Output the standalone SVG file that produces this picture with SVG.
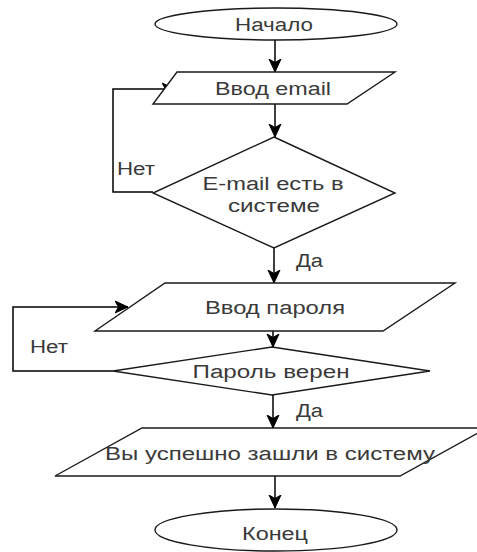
<svg xmlns="http://www.w3.org/2000/svg" width="477" height="552" viewBox="0 0 477 552">
  <style>
    .shape { fill: #ffffff; stroke: #1a1a1a; stroke-width: 1.4; }
    .edge { fill: none; stroke: #000000; stroke-width: 1.5; }
    .label { font-family: "Liberation Sans", Arial, sans-serif; font-size: 18px; fill: #3a3a3a; }
    .mid { text-anchor: middle; }
  </style>
  <defs>
    <marker id="arrow" markerUnits="userSpaceOnUse" markerWidth="14" markerHeight="14" viewBox="0 0 14 14" refX="13" refY="7" orient="auto">
      <path d="M0,1 L13,7 L0,13 L3.5,7 Z" fill="#000000" stroke="#000000" stroke-width="1"/>
    </marker>
  </defs>

  <rect x="0" y="0" width="477" height="552" fill="#ffffff"/>

  <!-- connectors -->
  <g id="connectors">
    <path class="edge" d="M275,40 L275,72" marker-end="url(#arrow)"/>
    <path class="edge" d="M275,104 L275,137" marker-end="url(#arrow)"/>
    <path class="edge" d="M153,192 L113,192 L113,89 L175,89" marker-end="url(#arrow)"/>
    <path class="edge" d="M274,248 L274,283" marker-end="url(#arrow)"/>
    <path class="edge" d="M113,371 L13,371 L13,307 L128,307" marker-end="url(#arrow)"/>
    <path class="edge" d="M273,331 L273,347" marker-end="url(#arrow)"/>
    <path class="edge" d="M273,395 L273,428" marker-end="url(#arrow)"/>
    <path class="edge" d="M275,476 L275,508" marker-end="url(#arrow)"/>
    <text class="label" x="117" y="175" textLength="38" lengthAdjust="spacingAndGlyphs">Нет</text>
    <text class="label" x="296" y="267" textLength="27" lengthAdjust="spacingAndGlyphs">Да</text>
    <text class="label" x="30" y="353" textLength="38" lengthAdjust="spacingAndGlyphs">Нет</text>
    <text class="label" x="296" y="417" textLength="27" lengthAdjust="spacingAndGlyphs">Да</text>
  </g>

  <!-- start -->
  <g id="start">
    <ellipse class="shape" cx="276" cy="24" rx="121" ry="16"/>
    <text class="label mid" x="274" y="31" textLength="78" lengthAdjust="spacingAndGlyphs">Начало</text>
  </g>

  <!-- email input -->
  <g id="input-email">
    <polygon class="shape" points="177,72 395,72 347,104 153,104"/>
    <text class="label mid" x="273" y="95" textLength="116" lengthAdjust="spacingAndGlyphs">Ввод email</text>
  </g>

  <!-- email check -->
  <g id="check-email">
    <polygon class="shape" points="274,137 395,193 274,248 153,193"/>
    <text class="label mid" x="273" y="190" textLength="141" lengthAdjust="spacingAndGlyphs">E-mail есть в</text>
    <text class="label mid" x="274" y="212" textLength="92" lengthAdjust="spacingAndGlyphs">системе</text>
  </g>

  <!-- password input -->
  <g id="input-password">
    <polygon class="shape" points="165,283 455,283 383,331 95,331"/>
    <text class="label mid" x="275" y="314" textLength="140" lengthAdjust="spacingAndGlyphs">Ввод пароля</text>
  </g>

  <!-- password check -->
  <g id="check-password">
    <polygon class="shape" points="272,347 430,371 272,395 113,371"/>
    <text class="label mid" x="271" y="378" textLength="157" lengthAdjust="spacingAndGlyphs">Пароль верен</text>
  </g>

  <!-- success output -->
  <g id="output-success">
    <polygon class="shape" points="142,428 487,428 400,476 55,476"/>
    <text class="label mid" x="270" y="460" textLength="330" lengthAdjust="spacingAndGlyphs">Вы успешно зашли в систему</text>
  </g>

  <!-- end -->
  <g id="end">
    <ellipse class="shape" cx="276" cy="530" rx="121" ry="21"/>
    <text class="label mid" x="275" y="540" textLength="66" lengthAdjust="spacingAndGlyphs">Конец</text>
  </g>
</svg>
